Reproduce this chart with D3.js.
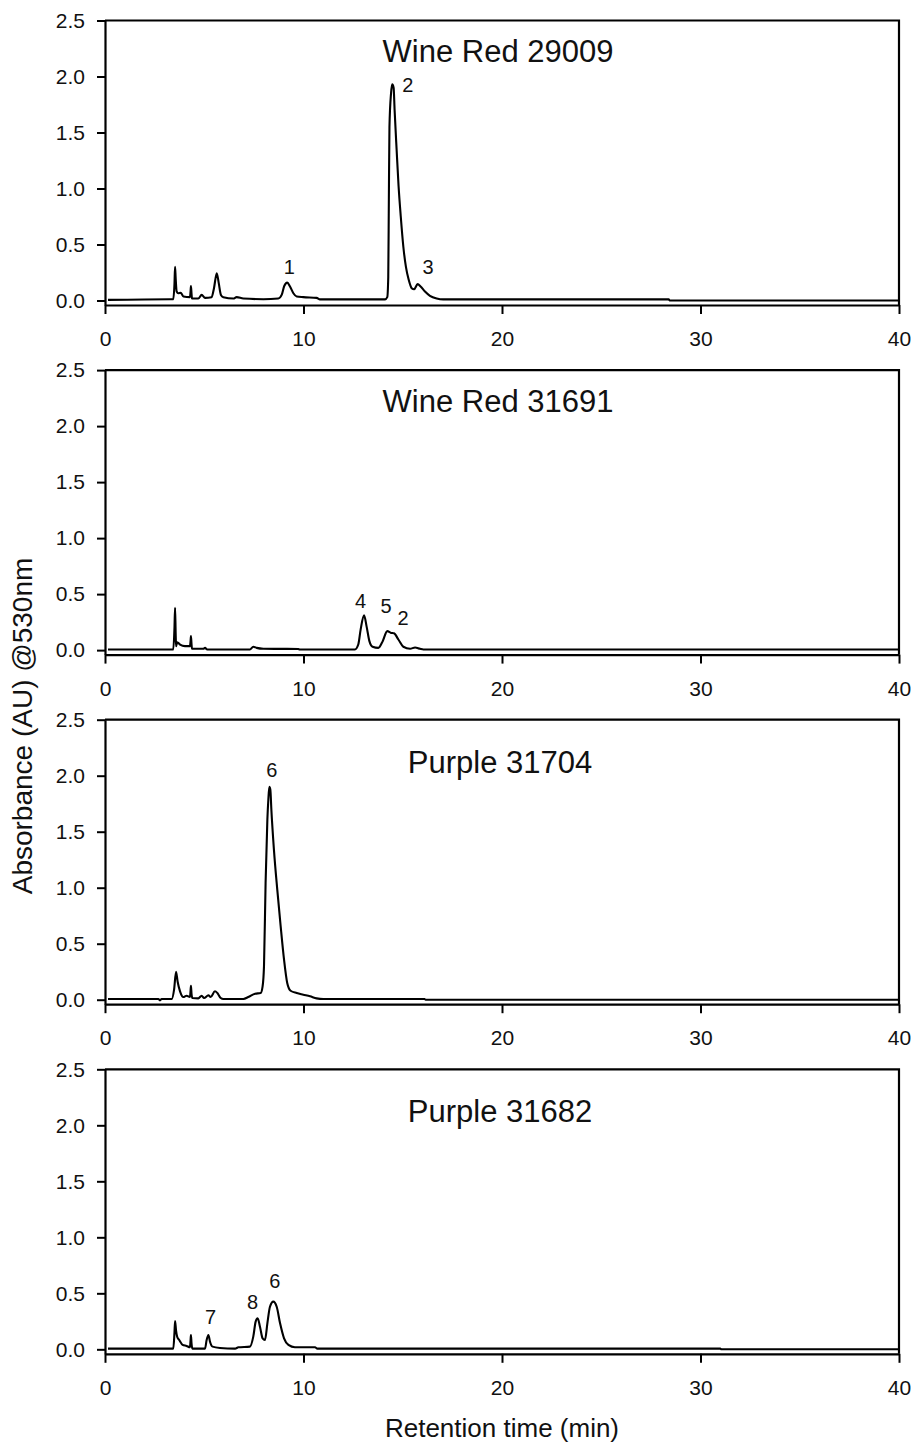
<!DOCTYPE html>
<html>
<head>
<meta charset="utf-8">
<script src="https://cdn.jsdelivr.net/npm/d3@7"></script>
<style>
  html, body { margin: 0; padding: 0; background: #fff; }
  svg { display: block; }
  text { font-family: "Liberation Sans", Arial, sans-serif; fill: #111; }
</style>
</head>
<body>
<svg id="chart" width="916" height="1450"></svg>
<script>
// ---------- data ----------
const xTicks = [0, 10, 20, 30, 40];
const yTicks = [0.0, 0.5, 1.0, 1.5, 2.0, 2.5];
const titles = ["Wine Red 29009", "Wine Red 31691", "Purple 31704", "Purple 31682"];
const xLabel = "Retention time (min)";
const yLabel = "Absorbance (AU) @530nm";

// [retention time (min), absorbance (AU)]
const wineRed29009 = [
  [0.15,0.006],[3.27,0.012],[3.44,0.012],[3.50,0.15],[3.53,0.30],[3.56,0.20],[3.61,0.08],[3.69,0.065],
  [3.81,0.07],[3.95,0.036],[4.28,0.03],[4.31,0.08],[4.33,0.13],[4.36,0.06],[4.38,0.018],[4.70,0.018],
  [4.87,0.05],[5.04,0.024],[5.37,0.03],[5.49,0.11],[5.63,0.244],[5.73,0.155],[5.84,0.05],[5.96,0.03],
  [6.47,0.018],[6.63,0.03],[6.97,0.018],[7.98,0.012],[8.73,0.018],[8.90,0.05],[9.03,0.13],[9.18,0.16],
  [9.32,0.125],[9.49,0.065],[9.66,0.036],[9.99,0.03],[10.66,0.024],[10.83,0.01],[14.11,0.01],[14.22,0.03],
  [14.27,0.21],[14.30,0.9],[14.33,1.55],[14.41,1.85],[14.47,1.93],[14.54,1.90],[14.59,1.70],[14.69,1.35],
  [14.79,1.02],[14.90,0.75],[15.03,0.48],[15.16,0.30],[15.30,0.185],[15.45,0.11],[15.57,0.10],[15.75,0.146],
  [15.90,0.125],[16.12,0.08],[16.37,0.042],[16.71,0.018],[17.04,0.01],[28.4,0.01],[28.45,0.0],[40,0.0]
];
const wineRed31691 = [
  [0.15,0.006],[3.44,0.006],[3.50,0.2],[3.53,0.378],[3.56,0.15],[3.58,0.036],[3.64,0.07],[3.78,0.05],
  [4.03,0.036],[4.28,0.036],[4.31,0.08],[4.33,0.125],[4.36,0.05],[4.38,0.012],[4.95,0.012],[5.04,0.02],
  [5.15,0.006],[7.30,0.006],[7.47,0.03],[7.64,0.02],[7.98,0.012],[9.74,0.01],[9.8,0.006],[12.59,0.006],
  [12.76,0.05],[12.88,0.185],[13.05,0.31],[13.18,0.21],[13.32,0.08],[13.48,0.03],[13.77,0.02],[13.99,0.08],
  [14.22,0.17],[14.39,0.155],[14.56,0.15],[14.78,0.095],[15.03,0.03],[15.37,0.012],[15.62,0.024],[15.87,0.012],
  [16.04,0.006],[40,0.006]
];
const purple31704 = [
  [0.15,0.006],[2.69,0.006],[2.77,-0.006],[2.85,0.006],[3.36,0.006],[3.48,0.09],[3.58,0.25],[3.66,0.16],
  [3.78,0.075],[3.95,0.024],[4.11,0.036],[4.28,0.024],[4.31,0.08],[4.33,0.125],[4.36,0.05],[4.40,0.015],
  [4.70,0.012],[4.87,0.036],[4.99,0.015],[5.21,0.04],[5.32,0.024],[5.54,0.075],[5.66,0.06],[5.83,0.015],
  [5.96,0.006],[6.97,0.006],[7.22,0.024],[7.56,0.054],[7.84,0.06],[7.94,0.12],[8.01,0.30],[8.09,1.04],
  [8.18,1.61],[8.23,1.79],[8.28,1.90],[8.33,1.875],[8.38,1.70],[8.51,1.34],[8.68,0.98],[8.85,0.655],
  [9.02,0.357],[9.18,0.149],[9.35,0.08],[9.66,0.06],[9.99,0.045],[10.33,0.03],[10.66,0.012],[11.0,0.006],
  [16.1,0.006],[16.15,0.0],[40,0.0]
];
const purple31682 = [
  [0.15,0.006],[3.44,0.006],[3.50,0.15],[3.53,0.253],[3.58,0.167],[3.64,0.11],[3.74,0.083],[3.91,0.04],
  [4.11,0.03],[4.28,0.018],[4.31,0.08],[4.33,0.128],[4.36,0.05],[4.40,0.006],[5.04,0.006],[5.12,0.083],
  [5.21,0.128],[5.29,0.068],[5.42,0.024],[5.79,0.012],[6.55,0.006],[6.72,0.018],[7.30,0.024],[7.47,0.113],
  [7.59,0.247],[7.69,0.277],[7.81,0.20],[7.94,0.098],[8.06,0.083],[8.18,0.232],[8.31,0.38],[8.48,0.426],
  [8.65,0.38],[8.82,0.232],[9.02,0.098],[9.24,0.039],[9.57,0.018],[10.58,0.018],[10.70,0.006],[31.0,0.006],
  [31.05,0.0],[40,0.0]
];
const series = [wineRed29009, wineRed31691, purple31704, purple31682];

// peak labels: [label, retention time, absorbance]
const peaks29009 = [["1",9.28,0.30],["2",15.26,1.93],["3",16.27,0.30]];
const peaks31691 = [["4",12.88,0.44],["5",14.16,0.40],["2",15.01,0.29]];
const peaks31704 = [["6",8.40,2.05]];
const peaks31682 = [["7",5.32,0.29],["8",7.44,0.42],["6",8.56,0.61]];
const peakSets = [peaks29009, peaks31691, peaks31704, peaks31682];

// ---------- layout ----------
const svg = d3.select("#chart");
const left = 105, right = 899;
const panelH = 284.5, panelStep = 349.6, firstTop = 20.5;
const titleDy = [41.5, 41.5, 53.5, 53];
const titleX = [498, 498, 500, 500];

const x = d3.scaleLinear().domain([0, 40]).range([left, right]);

series.forEach((data, i) => {
  const top = firstTop + i * panelStep;
  const bottom = top + panelH;
  const y = d3.scaleLinear().domain([-0.04, 2.5]).range([bottom, top]);
  const g = svg.append("g");

  // frame top & right
  g.append("path")
    .attr("d", `M${left},${top}H${right}V${bottom}`)
    .attr("fill", "none").attr("stroke", "#000").attr("stroke-width", 2.2);

  const ya = g.append("g").attr("transform", `translate(${left},0)`)
    .call(d3.axisLeft(y).tickValues(yTicks).tickFormat(d3.format(".1f"))
      .tickSize(8).tickSizeOuter(0).tickPadding(12));
  const xa = g.append("g").attr("transform", `translate(0,${bottom})`)
    .call(d3.axisBottom(x).tickValues(xTicks).tickFormat(d3.format("d"))
      .tickSize(9).tickSizeOuter(0).tickPadding(17));
  [ya, xa].forEach(a => {
    a.select(".domain").attr("stroke-width", 2.2).attr("stroke", "#000");
    a.selectAll(".tick line").attr("stroke-width", 2).attr("stroke", "#000");
    a.selectAll(".tick text").style("font-size", "21px").style("font-family", '"Liberation Sans", Arial, sans-serif').attr("fill", "#111");
  });

  // chromatogram
  const line = d3.line().x(d => x(d[0])).y(d => y(d[1])).curve(d3.curveMonotoneX);
  g.append("path").datum(data).attr("d", line)
    .attr("fill", "none").attr("stroke", "#000").attr("stroke-width", 2.1)
    .attr("stroke-linejoin", "round");

  // title
  g.append("text").attr("x", titleX[i]).attr("y", top + titleDy[i])
    .attr("text-anchor", "middle").style("font-size", "31px").text(titles[i]);

  // peak labels
  g.selectAll(".pk").data(peakSets[i]).enter().append("text")
    .attr("x", d => x(d[1])).attr("y", d => y(d[2])).attr("dy", "0.36em")
    .attr("text-anchor", "middle").style("font-size", "20px").text(d => d[0]);
});

// axis titles
svg.append("text").attr("x", 502).attr("y", 1437).attr("text-anchor", "middle")
  .style("font-size", "26px").text(xLabel);
svg.append("text").attr("transform", "translate(32,726) rotate(-90)").attr("text-anchor", "middle")
  .style("font-size", "28px").text(yLabel);
</script>
</body>
</html>
